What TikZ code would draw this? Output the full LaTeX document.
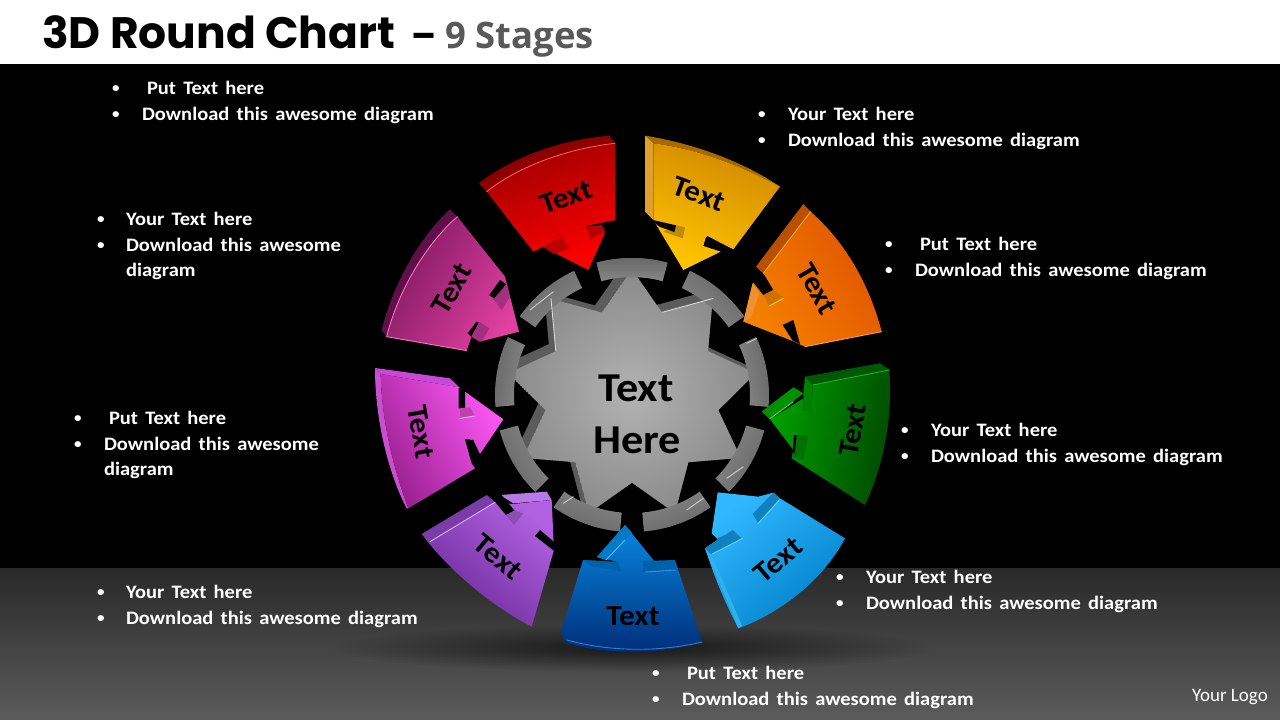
\documentclass[tikz,border=0pt]{standalone}
\usepackage{fontspec}
\usetikzlibrary{calc,fadings}
\setmainfont{Carlito}
\newfontfamily\bodyf[FakeStretch=1.08]{Carlito}
\newfontfamily\titlef{Poppins}
\newfontfamily\stagef{Open Sans}
\definecolor{wallgray}{HTML}{5C5C5C}
\tikzfading[name=softellipse,inner color=transparent!15,outer color=transparent!100]
\tikzset{
  zf/.style 2 args={shift={(#1,#2)},x=0.33333pt,y=-0.33333pt},
  bodytxt/.style={anchor=base west,inner sep=0pt,outer sep=0pt,text=white,font=\bodyf\bfseries\fontsize{19}{19}\selectfont},
  wedgetxt/.style={inner sep=0pt,text=black,font=\bodyf\bfseries\fontsize{29}{29}\selectfont},
  hubtxt/.style={inner sep=0pt,text=black,font=\bodyf\bfseries\fontsize{41}{41}\selectfont},
  glint/.style={line width=0.9pt,line cap=round}
}
\newcommand{\bulletline}[5]{% name, bullet x, text x, baseline y, text
  \node[bodytxt,font=\bodyf\bfseries\fontsize{14}{14}\selectfont] (#1b) at (#2,#4-1.5) {\textbullet};
  \node[bodytxt] (#1) at (#3,#4) {\spaceskip=0.38em plus 0pt #5};
}
\begin{document}
\begin{tikzpicture}[x=1pt,y=-1pt]
\useasboundingbox (0,0) rectangle (1280,720);
% backgrounds
\fill[white] (0,0) rectangle (1280,64);
\fill[black] (0,64) rectangle (1280,568);
\shade[top color=black!84,bottom color=black!64] (0,568) rectangle (1280,720);
\fill[black,opacity=0.75,path fading=softellipse] (632,648) ellipse [x radius=300,y radius=24];

% hub
\begin{scope}[shift={(632,395)},x=1pt,y=1pt]
  \shade[inner color=black!30,outer color=black!46] (0,0) circle [radius=126];
  \foreach \a in {110,150,...,470}{
    \begin{scope}
      \clip (\a-20:126) -- (\a:88) -- (\a+20:126) -- cycle;
      \fill[wallgray] (\a-20:126) -- (\a:88) -- (\a+20:126) -- cycle;
      \fill[black,shift={(-7,7)}] (\a:88) -- ($(\a:88)!3!(\a-20:126)$) -- ($(\a:88)!3!(\a+20:126)$) -- cycle;
    \end{scope}
    \fill[black] (\a-6:114) -- (\a-5:142) -- (\a+5:142) -- (\a+6:114) -- cycle;
  }
  \foreach \a in {90,130,...,450}{
    \pgfmathsetmacro{\sa}{\a-90}
    \shade[top color=black!60,bottom color=black!47,shading angle=\sa]
      (\a-15:137) arc [start angle=\a-15,end angle=\a+15,radius=137]
      -- (\a+15:118) arc [start angle=\a+15,end angle=\a-15,radius=118] -- cycle;
  }
  \foreach \a in {70,150}{
    \draw[white!85!black,glint] (\a:88) -- (\a-20:126);
  }
\end{scope}
\begin{scope}[zf={520}{290}]
  \draw[white!80!black,glint] (620,565) -- (670,530);
  \draw[white!80!black,glint] (500,660) -- (550,625);
  \draw[white!80!black,glint] (130,640) -- (160,620);
  \draw[white!80!black,glint] (680,160) -- (710,145);
  \draw[white!80!black,glint] (30,60) -- (100,5);
\end{scope}
\node[hubtxt] (hubtop) at (636,388) {Text};
\node[hubtxt] (hubbot) at (637,440) {Here};

% red
\begin{scope}[zf={370}{120}]
  \fill[fill={rgb,255:red,140;green,0;blue,0}] (327,190) .. controls (430,110) and (570,60) .. (718,47) -- (735,70) .. controls (600,85) and (450,135) .. (350,215) -- cycle;
  \shade[top color={rgb,255:red,160;green,0;blue,0},bottom color={rgb,255:red,255;green,0;blue,0},shading angle=20]
    (350,215) .. controls (450,135) and (600,85) .. (735,70) -- (735,300) -- (645,318) -- (705,338) -- (655,450) -- (518,380) -- (580,350) -- (490,395) -- cycle;
  \fill[fill={rgb,255:red,184;green,0;blue,0}] (648,320) -- (695,315) -- (706,336) -- (660,358) -- cycle;
  \fill[fill={rgb,255:red,184;green,0;blue,0}] (520,380) -- (575,350) -- (598,385) -- (550,402) -- cycle;
  \draw[draw={rgb,255:red,255;green,90;blue,90},glint] (350,215) .. controls (450,135) and (600,85) .. (735,70);
\end{scope}
\node[wedgetxt,rotate=20] (redtxt) at (566,197) {Text};

% gold
\begin{scope}[zf={630}{120}]
  \fill[fill={rgb,255:red,168;green,106;blue,0}] (45,47) .. controls (190,70) and (340,125) .. (450,200) .. controls (340,140) and (200,85) .. (70,70) -- cycle;
  \fill[fill={rgb,255:red,224;green,160;blue,48}] (45,47) -- (70,70) -- (70,300) -- (45,275) -- cycle;
  \shade[top color={rgb,255:red,208;green,136;blue,0},bottom color={rgb,255:red,255;green,196;blue,0},shading angle=-20]
    (70,70) .. controls (200,85) and (340,140) .. (450,200) -- (310,388) -- (228,350) -- (220,378) -- (272,395) -- (160,450) -- (70,300) -- cycle;
  \fill[fill={rgb,255:red,190;green,140;blue,10}] (135,315) -- (165,322) -- (158,355) -- (100,335) -- cycle;
  \fill[black] (60,298) -- (138,316) -- (133,336) -- (88,320) -- cycle;
  \fill[black] (232,348) -- (312,390) -- (292,400) -- (222,372) -- cycle;
\end{scope}
\node[wedgetxt,rotate=-20] (goldtxt) at (699,194) {Text};

% orange
\begin{scope}[zf={630}{120}]
  \fill[fill={rgb,255:red,184;green,80;blue,0}] (378,440) -- (520,252) -- (542,275) -- (400,460) -- cycle;
  \shade[top color={rgb,255:red,224;green,84;blue,0},bottom color={rgb,255:red,244;green,128;blue,0},shading angle=-60]
    (400,460) -- (542,275) .. controls (650,370) and (720,500) .. (755,635) -- (525,680) -- (480,660) -- (340,605) -- (368,490) -- cycle;
  \fill[fill={rgb,255:red,240;green,144;blue,48}] (368,490) -- (340,605) -- (362,595) -- (388,520) -- cycle;
  \fill[black] (370,445) -- (400,460) -- (430,510) -- (400,525) -- (368,485) -- cycle;
  \fill[black] (458,615) -- (490,600) -- (510,672) -- (488,662) -- cycle;
  \fill[fill={rgb,255:red,208;green,112;blue,0}] (400,525) -- (430,510) -- (462,533) -- (418,560) -- cycle;
  \draw[draw={rgb,255:red,255;green,208;blue,64},glint] (418,558) -- (460,535);
  \draw[draw={rgb,255:red,255;green,160;blue,64},glint] (525,680) -- (755,635);
  \draw[draw={rgb,255:red,255;green,160;blue,64},glint] (400,460) -- (542,275);
\end{scope}
\node[wedgetxt,rotate=-60] (orangetxt) at (817,289) {Text};

% green
\begin{scope}[zf={630}{360}]
  \fill[fill={rgb,255:red,0;green,88;blue,0}] (525,50) -- (750,10) -- (778,30) -- (548,75) -- cycle;
  \fill[fill={rgb,255:red,0;green,128;blue,0}] (525,50) -- (548,75) -- (548,155) -- (520,150) -- (520,100) -- cycle;
  \fill[fill={rgb,255:red,0;green,144;blue,0}] (395,155) -- (490,82) -- (520,100) -- (420,178) -- cycle;
  \shade[top color={rgb,255:red,0;green,72;blue,0},bottom color={rgb,255:red,0;green,160;blue,0},shading angle=-100]
    (548,75) -- (778,30) .. controls (790,170) and (760,320) .. (705,435) -- (485,295) -- (490,270) -- (420,178) -- (520,115) -- (520,150) -- (545,155) -- cycle;
  \fill[fill={rgb,255:red,0;green,112;blue,0}] (497,225) -- (535,228) -- (520,300) -- (487,292) -- cycle;
  \fill[black] (492,225) -- (500,225) -- (494,280) -- (488,272) -- cycle;
  \draw[draw={rgb,255:red,64;green,240;blue,64},glint] (420,176) -- (490,125);
  \draw[draw={rgb,255:red,32;green,176;blue,32},glint] (548,75) -- (778,30);
\end{scope}
\node[wedgetxt,rotate=80] (greentxt) at (853,430) {Text};

% cyan
\begin{scope}[zf={630}{360}]
  \shade[top color={rgb,255:red,0;green,128;blue,200},bottom color={rgb,255:red,48;green,184;blue,255},shading angle=-140]
    (263,397) -- (385,410) -- (430,398) -- (450,415) -- (645,535) .. controls (580,660) and (450,760) .. (325,805) .. controls (280,720) and (250,640) .. (225,565) -- (305,510) -- (262,537) -- (245,520) -- cycle;
  \fill[fill={rgb,255:red,16;green,128;blue,192}] (225,565) -- (308,510) -- (335,535) -- (245,585) -- cycle;
  \fill[fill={rgb,255:red,16;green,128;blue,192}] (430,398) -- (450,415) -- (385,490) -- (368,462) -- cycle;
  \draw[draw={rgb,255:red,96;green,216;blue,255},glint] (245,583) -- (338,535);
  \draw[draw={rgb,255:red,96;green,216;blue,255},glint] (385,490) -- (448,420);
  \fill[fill={rgb,255:red,48;green,176;blue,240}] (225,565) -- (325,805) -- (336,797) -- (245,585) -- cycle;
\end{scope}
\node[wedgetxt,rotate=40] (cyantxt) at (778,560) {Text};

% blue
\begin{scope}[zf={0}{0},x=1pt,y=-1pt]
  \shade[top color={rgb,255:red,0;green,44;blue,120},bottom color={rgb,255:red,8;green,136;blue,224},shading angle=-180]
    (625,525) -- (655,562) -- (675,560) -- (702,642) .. controls (660,655) and (600,655) .. (565,642) -- (561,632) -- (583,560) -- (618,562) -- (597,557) -- cycle;
  \fill[fill={rgb,255:red,8;green,120;blue,200}] (597,557) -- (625,525) -- (632,533) -- (606,560) -- cycle;
  \fill[fill={rgb,255:red,0;green,96;blue,168}] (643,561) -- (675,560) -- (676,570) -- (643,572) -- cycle;
  \fill[fill={rgb,255:red,0;green,96;blue,168}] (583,560) -- (618,562) -- (621,571) -- (591,566) -- cycle;
  \draw[draw={rgb,255:red,64;green,192;blue,255},glint] (606,560) -- (625,540);
  \draw[draw={rgb,255:red,48;green,150;blue,230},glint] (645,572) -- (676,570);
  \draw[draw={rgb,255:red,48;green,128;blue,208},glint] (567,640) .. controls (610,652) and (660,652) .. (702,642);
\end{scope}
\node[wedgetxt] (bluetxt) at (633,616) {Text};

% purple
\begin{scope}[zf={370}{380}]
  \fill[fill={rgb,255:red,122;green,60;blue,168}] (155,462) -- (350,345) -- (375,365) -- (175,488) -- cycle;
  \fill[fill={rgb,255:red,184;green,120;blue,232}] (390,345) -- (530,335) -- (545,360) -- (430,370) -- cycle;
  \shade[top color={rgb,255:red,106;green,42;blue,152},bottom color={rgb,255:red,176;green,96;blue,224},shading angle=-220]
    (175,488) -- (375,365) -- (428,372) -- (545,360) -- (552,510) -- (485,740) .. controls (370,680) and (260,590) .. (175,488) -- cycle;
  \fill[black] (355,342) -- (392,342) -- (434,392) -- (408,405) -- cycle;
  \fill[black] (510,450) -- (555,488) -- (555,515) -- (495,468) -- cycle;
  \fill[fill={rgb,255:red,138;green,80;blue,176}] (408,405) -- (432,392) -- (460,400) -- (432,435) -- cycle;
  \draw[draw={rgb,255:red,224;green,176;blue,255},glint] (180,485) -- (375,367);
\end{scope}
\node[wedgetxt,rotate=-40] (purpletxt) at (498,557) {Text};

% magenta
\begin{scope}[zf={370}{380}]
  \fill[fill={rgb,255:red,200;green,72;blue,216}] (15,-36) -- (240,-5) -- (268,22) -- (32,-18) -- cycle;
  \fill[fill={rgb,255:red,200;green,80;blue,208}] (15,-36) .. controls (15,130) and (60,290) .. (110,385) -- (115,385) .. controls (75,280) and (35,130) .. (32,-18) -- cycle;
  \shade[top color={rgb,255:red,154;green,32;blue,144},bottom color={rgb,255:red,252;green,88;blue,245},shading angle=120]
    (32,-18) -- (268,22) -- (278,30) -- (400,118) -- (330,222) -- (310,180) -- (285,178) -- (315,265) -- (115,385) .. controls (75,280) and (35,130) .. (32,-18) -- cycle;
  \fill[black] (266,24) -- (285,28) -- (285,85) -- (266,85) -- cycle;
  \fill[black] (285,178) -- (310,180) -- (318,268) -- (305,250) -- cycle;
  \fill[fill={rgb,255:red,192;green,64;blue,176}] (270,85) -- (300,82) -- (315,108) -- (270,115) -- cycle;
  \draw[draw={rgb,255:red,255;green,176;blue,255},glint] (270,115) -- (315,108);
\end{scope}
\node[wedgetxt,rotate=-80] (magentatxt) at (421,432) {Text};

% dark pink
\begin{scope}[zf={370}{120}]
  \fill[fill={rgb,255:red,96;green,16;blue,72}] (240,268) .. controls (150,350) and (70,490) .. (35,630) -- (50,650) .. controls (85,510) and (170,370) .. (262,290) -- cycle;
  \shade[top color={rgb,255:red,128;green,24;blue,96},bottom color={rgb,255:red,224;green,64;blue,160},shading angle=60]
    (262,290) .. controls (170,370) and (85,510) .. (50,650) -- (290,692) -- (305,650) -- (330,665) -- (447,635) -- (405,470) -- cycle;
  \fill[black] (390,480) -- (408,492) -- (375,538) -- (358,525) -- cycle;
  \fill[fill={rgb,255:red,160;green,48;blue,128}] (408,495) -- (420,530) -- (395,570) -- (370,538) -- cycle;
  \fill[black] (320,605) -- (335,612) -- (305,650) -- (293,640) -- cycle;
  \fill[fill={rgb,255:red,160;green,48;blue,128}] (328,605) -- (358,625) -- (335,665) -- (305,648) -- cycle;
  \draw[draw={rgb,255:red,240;green,120;blue,190},glint] (262,290) .. controls (170,370) and (85,510) .. (50,650);
  \draw[draw={rgb,255:red,240;green,120;blue,190},glint] (50,650) -- (290,692);
\end{scope}
\node[wedgetxt,rotate=60] (pinktxt) at (452,289) {Text};

% title
\node[anchor=base west,inner sep=0pt,text=black,font=\titlef\bfseries\fontsize{44}{44}\selectfont] (title) at (42,48) {3D Round Chart};
\node[anchor=base west,inner sep=0pt,text=black,font=\titlef\bfseries\fontsize{36}{36}\selectfont] (dash) at (411,48) {–};
\node[anchor=base west,inner sep=0pt,text=black!65,font=\stagef\bfseries\fontsize{36.5}{36.5}\selectfont] (stages) at (445,48) {9 Stages};

% labels
\bulletline{la}{112}{147}{94}{Put Text here}
\bulletline{lb}{112}{142}{120}{Download this awesome diagram}
\bulletline{ra}{758}{788}{120}{Your Text here}
\bulletline{rb}{758}{788}{146}{Download this awesome diagram}
\bulletline{lc}{97}{126}{225}{Your Text here}
\bulletline{ld}{97}{126}{251}{Download this awesome}
\node[bodytxt] (le) at (126,276) {diagram};
\bulletline{rc}{885}{920}{250}{Put Text here}
\bulletline{rd}{885}{915}{276}{Download this awesome diagram}
\bulletline{lf}{74}{109}{424}{Put Text here}
\bulletline{lg}{74}{104}{450}{Download this awesome}
\node[bodytxt] (lh) at (104,475) {diagram};
\bulletline{re}{901}{931}{436}{Your Text here}
\bulletline{rf}{901}{931}{462}{Download this awesome diagram}
\bulletline{li}{97}{126}{598}{Your Text here}
\bulletline{lj}{97}{126}{624}{Download this awesome diagram}
\bulletline{rg}{836}{866}{583}{Your Text here}
\bulletline{rh}{836}{866}{609}{Download this awesome diagram}
\bulletline{ba}{652}{687}{679}{Put Text here}
\bulletline{bb}{652}{682}{705}{Download this awesome diagram}
\node[anchor=base west,inner sep=0pt,text=white,font=\fontsize{19}{19}\selectfont] (logo) at (1192,701) {Your Logo};
\end{tikzpicture}
\end{document}
